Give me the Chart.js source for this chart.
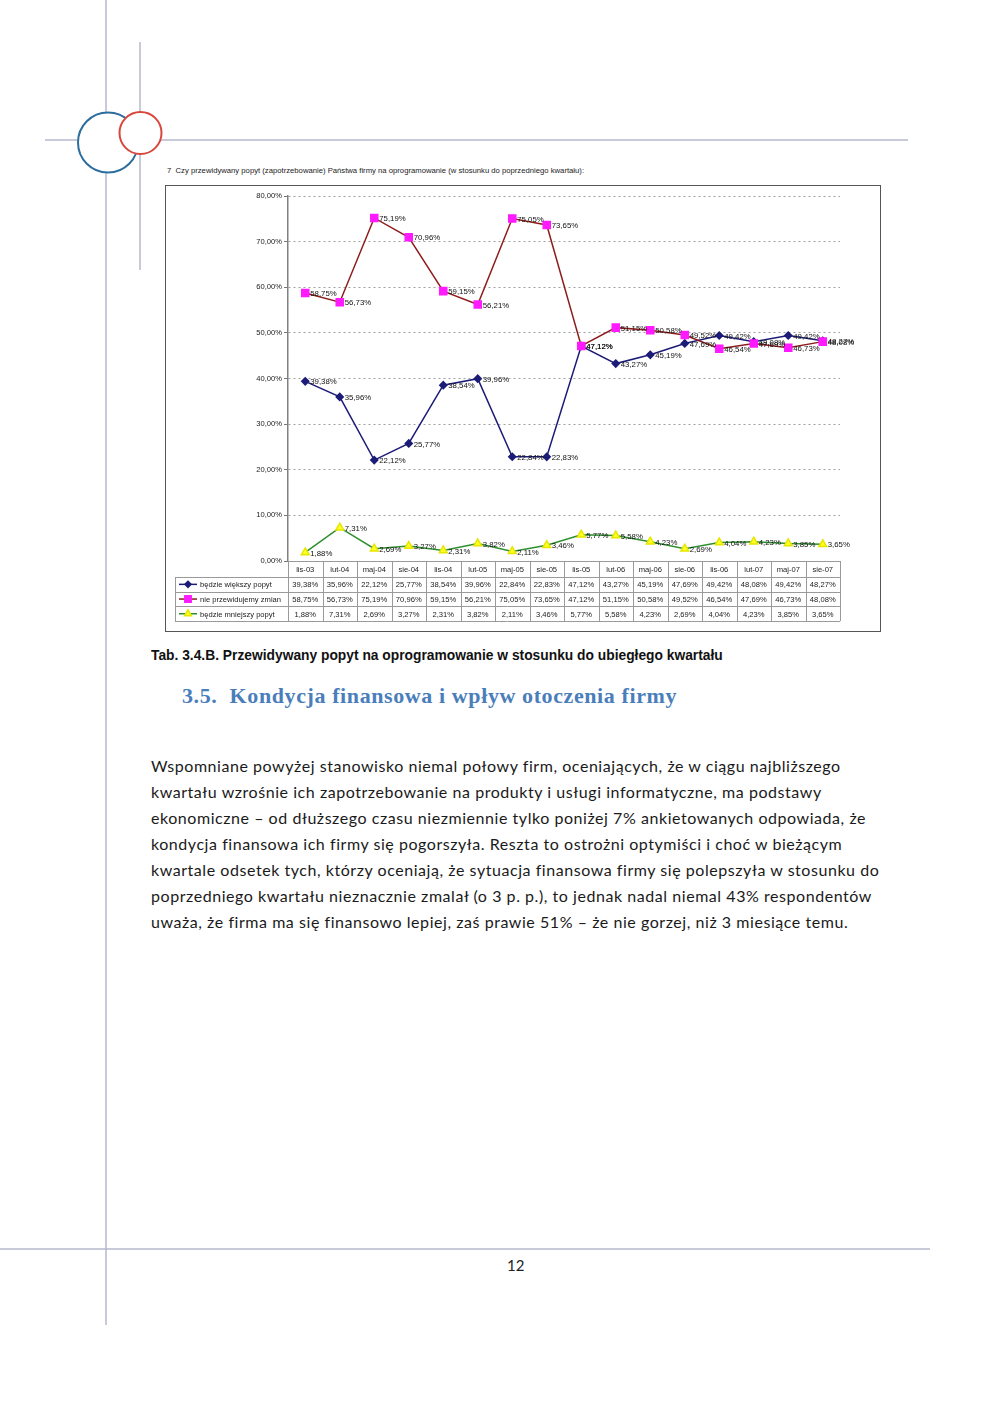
<!DOCTYPE html>
<html lang="pl">
<head>
<meta charset="utf-8">
<script src="https://cdn.jsdelivr.net/npm/chart.js@4.4.1/dist/chart.umd.min.js"></script>
<style>
body{margin:0;background:#fff;width:1000px;height:1415px;position:relative;overflow:hidden;font-family:Arial,"Liberation Sans",sans-serif}
#deco{position:absolute;left:0;top:0}
.abs{position:absolute;white-space:nowrap}
#chartTitle{left:167px;top:166px;font-size:7.7px;color:#222}
#chartBox{position:absolute;left:165px;top:185px;width:716px;height:447px;border:1px solid #555;box-sizing:border-box;background:#fff}
#chartBox canvas{position:absolute;left:0;top:0}
#caption{left:151px;top:646px;font-family:Arial,"Liberation Sans",sans-serif;font-weight:bold;font-size:15px;color:#111;transform:scaleX(0.92);transform-origin:0 0}
#heading{left:182px;top:683px;font-family:"Liberation Serif","DejaVu Serif",serif;font-weight:bold;font-size:22px;letter-spacing:0.6px;color:#4a7ebb}
.txt{left:151px;font-family:Lato,"Open Sans",sans-serif;font-size:16px;letter-spacing:0.55px;color:#1a1a1a}
#pageNo{left:507px;top:1256px;font-family:Lato,sans-serif;font-size:15px;color:#222}
</style>
</head>
<body>
<svg id="deco" width="1000" height="1415">
  <g stroke="#b6b9cc" stroke-width="1.5" fill="none">
    <line x1="106" y1="0" x2="106" y2="1325"/>
    <line x1="140" y1="42" x2="140" y2="270"/>
    <line x1="45" y1="140" x2="908" y2="140"/>
    <line x1="0" y1="1249" x2="930" y2="1249"/>
  </g>
  <circle cx="108" cy="142.5" r="30" fill="#fff" stroke="#2b6e9e" stroke-width="2"/>
  <circle cx="140.5" cy="133" r="21" fill="#fff" stroke="#d8463c" stroke-width="2"/>
</svg>

<div id="chartTitle" class="abs">7&nbsp; Czy przewidywany popyt (zapotrzebowanie) Państwa firmy na oprogramowanie (w stosunku do poprzedniego kwartału):</div>
<div id="chartBox"><canvas id="popyt" width="714" height="445"></canvas></div>

<div id="caption" class="abs">Tab. 3.4.B. Przewidywany popyt na oprogramowanie w stosunku do ubiegłego kwartału</div>
<div id="heading" class="abs">3.5.&nbsp; Kondycja finansowa i wpływ otoczenia firmy</div>

<div class="abs txt" style="top:756px">Wspomniane powyżej stanowisko niemal połowy firm, oceniających, że w ciągu najbliższego</div>
<div class="abs txt" style="top:782px">kwartału wzrośnie ich zapotrzebowanie na produkty i usługi informatyczne, ma podstawy</div>
<div class="abs txt" style="top:808px">ekonomiczne – od dłuższego czasu niezmiennie tylko poniżej 7% ankietowanych odpowiada, że</div>
<div class="abs txt" style="top:834px">kondycja finansowa ich firmy się pogorszyła. Reszta to ostrożni optymiści i choć w bieżącym</div>
<div class="abs txt" style="top:860px">kwartale odsetek tych, którzy oceniają, że sytuacja finansowa firmy się polepszyła w stosunku do</div>
<div class="abs txt" style="top:886px">poprzedniego kwartału nieznacznie zmalał (o 3 p. p.), to jednak nadal niemal 43% respondentów</div>
<div class="abs txt" style="top:912px">uważa, że firma ma się finansowo lepiej, zaś prawie 51% – że nie gorzej, niż 3 miesiące temu.</div>

<div id="pageNo" class="abs">12</div>

<script>
// dane z tabeli pod wykresem
const categories = ['lis-03','lut-04','maj-04','sie-04','lis-04','lut-05','maj-05','sie-05','lis-05','lut-06','maj-06','sie-06','lis-06','lut-07','maj-07','sie-07'];
const seriesNames = ['będzie większy popyt','nie przewidujemy zmian','będzie mniejszy popyt'];
const wiekszyPopyt = [39.38,35.96,22.12,25.77,38.54,39.96,22.84,22.83,47.12,43.27,45.19,47.69,49.42,48.08,49.42,48.27];
const bezZmian = [58.75,56.73,75.19,70.96,59.15,56.21,75.05,73.65,47.12,51.15,50.58,49.52,46.54,47.69,46.73,48.08];
const mniejszyPopyt = [1.88,7.31,2.69,3.27,2.31,3.82,2.11,3.46,5.77,5.58,4.23,2.69,4.04,4.23,3.85,3.65];
const yTicks = [0,10,20,30,40,50,60,70,80];

function pct(v){ return v.toFixed(2).replace('.', ',') + '%'; }

/** etykiety danych na prawo od punktu **/
const dataLabels = {
	id: 'dataLabels',
	afterDatasetsDraw(chart){
		const ctx = chart.ctx;
		ctx.save();
		ctx.font = '7.8px Arial, "Liberation Sans", sans-serif';
		ctx.fillStyle = '#111';
		ctx.textBaseline = 'middle';
		chart.data.datasets.forEach(function(ds, i){
			chart.getDatasetMeta(i).data.forEach(function(pt, j){
				ctx.fillText(pct(ds.data[j]), pt.x + 5, pt.y + 1);
			});
		});
		ctx.restore();
	}
};

/** tabela danych pod osią X **/
const dataTable = {
	id: 'dataTable',
	afterDraw(chart){
		const ctx = chart.ctx, area = chart.chartArea, x = chart.scales.x;
		const colW = (area.right - area.left) / categories.length;
		const top = area.bottom, headH = 16, rowH = 14.7;
		const legLeft = 9;
		const bottom = top + headH + rowH * 3;
		ctx.save();
		ctx.strokeStyle = '#9a9a9a';
		ctx.lineWidth = 1;
		ctx.beginPath();
		// poziome linie
		ctx.moveTo(area.left, top + 0.5); ctx.lineTo(area.right, top + 0.5);
		for(let r = 0; r <= 3; r++){
			const y = Math.round(top + headH + r * rowH) + 0.5;
			ctx.moveTo(legLeft, y); ctx.lineTo(area.right, y);
		}
		// pionowe linie
		for(let c = 0; c <= categories.length; c++){
			const xx = Math.round(area.left + c * colW) + 0.5;
			ctx.moveTo(xx, top); ctx.lineTo(xx, bottom);
		}
		ctx.moveTo(legLeft + 0.5, top + headH); ctx.lineTo(legLeft + 0.5, bottom);
		ctx.stroke();

		ctx.font = '7.6px Arial, "Liberation Sans", sans-serif';
		ctx.fillStyle = '#222';
		ctx.textAlign = 'center';
		ctx.textBaseline = 'middle';
		categories.forEach(function(cat, j){
			ctx.fillText(cat, x.getPixelForValue(j), top + headH / 2 + 1);
		});
		chart.data.datasets.forEach(function(ds, i){
			const yy = top + headH + rowH * i + rowH / 2 + 1;
			ds.data.forEach(function(v, j){
				ctx.fillText(pct(v), x.getPixelForValue(j), yy);
			});
		});

		// legenda w tabeli
		chart.data.datasets.forEach(function(ds, i){
			const yy = top + headH + rowH * i + rowH / 2;
			ctx.strokeStyle = ds.borderColor;
			ctx.lineWidth = 1.5;
			ctx.beginPath();
			ctx.moveTo(legLeft + 4, yy); ctx.lineTo(legLeft + 22, yy);
			ctx.stroke();
			ctx.fillStyle = ds.pointBackgroundColor;
			ctx.strokeStyle = ds.pointBorderColor;
			Chart.helpers.drawPoint(ctx, {
				pointStyle: ds.pointStyle, radius: ds.pointRadius - 0.5, rotation: 0, borderWidth: 0.5
			}, legLeft + 13, yy);
			ctx.fillStyle = '#222';
			ctx.textAlign = 'left';
			ctx.fillText(seriesNames[i], legLeft + 25, yy + 1);
		});
		ctx.restore();
	}
};

new Chart(document.getElementById('popyt'), {
	type: 'line',
	data: {
		labels: categories,
		datasets: [{
			label: seriesNames[0],
			data: wiekszyPopyt,
			borderColor: '#1c1c78',
			borderWidth: 1.5,
			pointStyle: 'rectRot',
			pointRadius: 3.5,
			pointBackgroundColor: '#1c1c78',
			pointBorderColor: '#1c1c78',
			order: 2
		},{
			label: seriesNames[1],
			data: bezZmian,
			borderColor: '#8e1c1c',
			borderWidth: 1.5,
			pointStyle: 'rect',
			pointRadius: 5,
			pointBackgroundColor: '#ff1aff',
			pointBorderColor: '#ff1aff',
			order: 1
		},{
			label: seriesNames[2],
			data: mniejszyPopyt,
			borderColor: '#2f8f2f',
			borderWidth: 1.5,
			pointStyle: 'triangle',
			pointRadius: 4.5,
			pointBackgroundColor: '#ffff22',
			pointBorderColor: '#e6e600',
			order: 0
		}]
	},
	options: {
		responsive: false,
		animation: false,
		events: [],
		layout: { padding: { top: 10, right: 40, bottom: 70, left: 0 } },
		plugins: { legend: { display: false }, tooltip: { enabled: false } },
		scales: {
			x: { type: 'category', offset: true, display: false },
			y: {
				min: 0, max: 80,
				afterBuildTicks: function(s){ s.ticks = yTicks.map(function(v){ return { value: v }; }); },
				afterFit: function(s){ s.width = 122; },
				ticks: {
					padding: 2,
					color: '#222',
					font: { size: 7.6, family: 'Arial, "Liberation Sans", sans-serif' },
					callback: function(v){ return pct(v); }
				},
				grid: { color: '#a0a0a0', tickColor: '#777', tickLength: 4 },
				border: { color: '#808080', width: 1.5, dash: [2, 3] }
			}
		}
	},
	plugins: [dataLabels, dataTable]
});
</script>
</body>
</html>
